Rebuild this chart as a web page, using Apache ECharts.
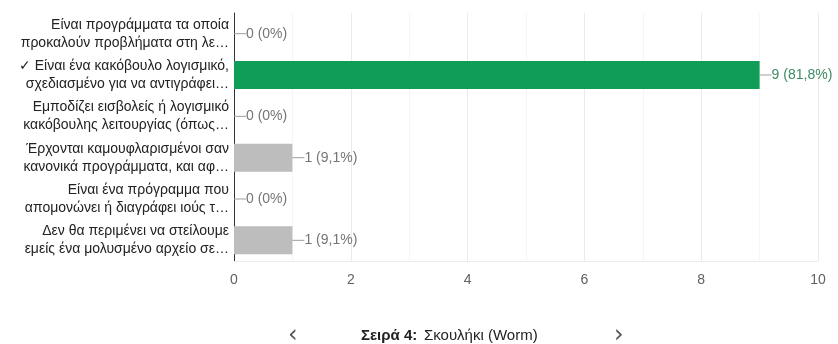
<!DOCTYPE html>
<html>
<head>
    <meta charset="UTF-8">
    <script type="text/javascript" src="https://cdn.jsdelivr.net/npm/echarts@6/dist/echarts.min.js"></script>
    <title>Σειρά 4</title>
    <style>
        html, body { margin: 0; padding: 0; background: #fff; }
        #chart { width: 838px; height: 344px; }
    </style>
</head>
<body>
    <div id="chart"></div>
    <script type="text/javascript">
    // απαντήσεις (από πάνω προς τα κάτω)
    var categories = [
        'Είναι προγράμματα τα οποία\nπροκαλούν προβλήματα στη λε…',
        '✓ Είναι ένα κακόβουλο λογισμικό,\nσχεδιασμένο για να αντιγράφει…',
        'Εμποδίζει εισβολείς ή λογισμικό\nκακόβουλης λειτουργίας (όπως…',
        'Έρχονται καμουφλαρισμένοι σαν\nκανονικά προγράμματα, και αφ…',
        'Είναι ένα πρόγραμμα που\nαπομονώνει ή διαγράφει ιούς τ…',
        'Δεν θα περιμένει να στείλουμε\nεμείς ένα μολυσμένο αρχείο σε…'
    ];
    var counts = [0, 9, 0, 1, 0, 1];
    var percents = ['0%', '81,8%', '0%', '9,1%', '0%', '9,1%'];
    var correct = [false, true, false, false, false, false];
    var xTicks = [0, 2, 4, 6, 8, 10];

    var FONT = 'Liberation Sans, Arial, sans-serif';
    var chart = echarts.init(document.getElementById('chart'));

    var seriesData = counts.map(function (v, i) {
        return {
            value: v,
            itemStyle: { color: correct[i] ? '#0f9d58' : '#bdbdbd' },
            label: {
                rich: {
                    ln: { width: 12, height: 1, backgroundColor: '#9e9e9e' },
                    t: {
                        color: correct[i] ? '#3e8a64' : '#757575',
                        fontSize: 14,
                        fontFamily: FONT
                    }
                }
            }
        };
    });

    var option = {
        animation: false,
        grid: { left: 234, right: 20, top: 13, bottom: 83 },
        xAxis: {
            type: 'value',
            min: xTicks[0],
            max: xTicks[xTicks.length - 1],
            interval: 2,
            axisLine: { show: true, lineStyle: { color: '#ebebeb' } },
            axisTick: { show: false },
            axisLabel: {
                color: '#616161',
                fontSize: 14,
                margin: 12,
                fontFamily: FONT
            },
            splitLine: { show: true, lineStyle: { color: '#ebebeb' } },
            minorTick: { show: false, splitNumber: 2 },
            minorSplitLine: { show: true, lineStyle: { color: '#f5f5f5' } }
        },
        yAxis: {
            type: 'category',
            inverse: true,
            data: categories,
            axisLine: { show: true, lineStyle: { color: '#333' } },
            axisTick: { show: false },
            axisLabel: {
                color: '#222',
                fontSize: 14,
                lineHeight: 18,
                margin: 5,
                align: 'right',
                fontFamily: FONT
            }
        },
        series: [{
            type: 'bar',
            barWidth: 28,
            data: seriesData,
            label: {
                show: true,
                position: 'right',
                distance: 0,
                formatter: function (p) {
                    return '{ln|}{t|' + counts[p.dataIndex] + ' (' + percents[p.dataIndex] + ')}';
                }
            }
        }],
        graphic: [
            {
                type: 'text', left: 288, top: 324,
                style: { text: '‹', fontSize: 24, fill: '#555', fontFamily: 'DejaVu Sans' }
            },
            {
                type: 'text', left: 614, top: 324,
                style: { text: '›', fontSize: 24, fill: '#555', fontFamily: 'DejaVu Sans' }
            },
            {
                type: 'text', left: 361, top: 328,
                style: {
                    text: '{b|Σειρά 4:}  {n|Σκουλήκι (Worm)}',
                    rich: {
                        b: { fontWeight: 'bold', fontSize: 15, fill: '#222', fontFamily: FONT },
                        n: { fontSize: 15, fill: '#222', fontFamily: FONT }
                    }
                }
            }
        ]
    };
    chart.setOption(option);
    </script>
</body>
</html>
